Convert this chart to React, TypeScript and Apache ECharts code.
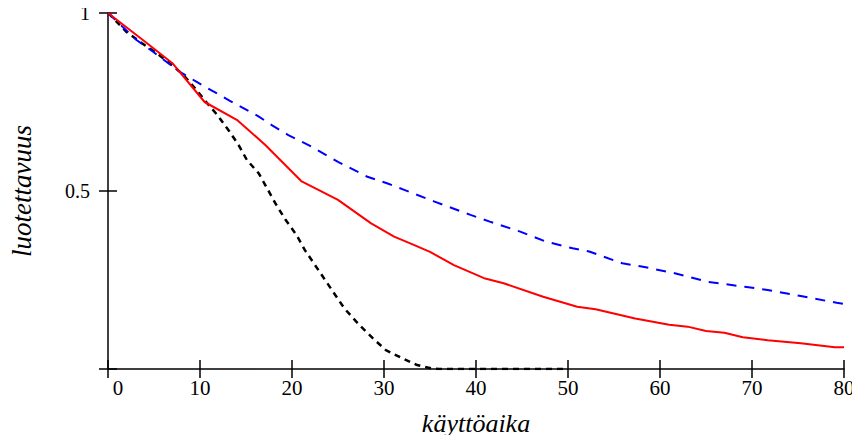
import React, { useEffect, useRef } from "react";
import * as echarts from "echarts";

const xTicks = [0, 10, 20, 30, 40, 50, 60, 70, 80];
const yTickLabels = ["", "0.5", "1"];

const redX = [0, 4, 7, 10.5, 14, 15.2, 17.1, 21, 25, 28.6, 31.1, 33.3, 35, 37.6, 41, 43, 47.3, 51, 53, 57.3, 61, 63, 65, 67, 69, 71.7, 75.3, 79, 80];
const redY = [1, 0.92, 0.859, 0.75, 0.7, 0.673, 0.629, 0.528, 0.475, 0.409, 0.372, 0.348, 0.329, 0.292, 0.254, 0.241, 0.203, 0.175, 0.168, 0.142, 0.124, 0.119, 0.107, 0.102, 0.089, 0.081, 0.072, 0.061, 0.061];

const blueX = [0, 3.1, 4.9, 7.8, 9.6, 13.2, 16.4, 17.8, 19.6, 21.8, 25, 28.2, 30.4, 32.2, 35.5, 39.4, 41.5, 44.8, 47.6, 50.5, 52.3, 55.9, 58, 61.6, 65.2, 69.2, 71.7, 75.3, 79.2, 80];
const blueY = [1, 0.924, 0.891, 0.835, 0.807, 0.754, 0.709, 0.685, 0.657, 0.629, 0.582, 0.54, 0.521, 0.503, 0.47, 0.433, 0.414, 0.386, 0.358, 0.339, 0.33, 0.297, 0.288, 0.269, 0.245, 0.231, 0.222, 0.205, 0.186, 0.183];

const blackX = [0, 0.25, 2, 3.7, 5.3, 6.7, 8.2, 9.6, 10.8, 11.9, 13.2, 14.2, 15.1, 16.4, 17.3, 18.2, 19.3, 20.5, 21.4, 22.5, 23.6, 24.7, 25.7, 27.3, 28.8, 30.2, 32, 33.6, 35.1, 36, 50];
const blackY = [1, 0.994, 0.947, 0.915, 0.887, 0.859, 0.826, 0.784, 0.746, 0.713, 0.667, 0.629, 0.587, 0.549, 0.507, 0.465, 0.419, 0.376, 0.334, 0.292, 0.25, 0.208, 0.17, 0.124, 0.086, 0.053, 0.03, 0.011, 0.002, 0, 0];

const zip = (xs: number[], ys: number[]) => xs.map((x, i) => [x, ys[i]]);

const FONT = "Times New Roman, Liberation Serif, serif";

export default function App() {
  const ref = useRef<HTMLDivElement>(null);
  useEffect(() => {
    if (!ref.current) return;
    const chart = echarts.init(ref.current, undefined, { renderer: "svg" });
    const axisLineStyle = { color: "#000", width: 1.5 };
    chart.setOption({
      animation: false,
      backgroundColor: "#fff",
      textStyle: { fontFamily: FONT },
      grid: { left: 101, right: 16, top: 13, bottom: 74, containLabel: false },
      xAxis: [
        {
          type: "value",
          min: 0,
          max: 80,
          interval: 10,
          position: "bottom",
          splitLine: { show: false },
          axisLine: { show: true, onZero: false, lineStyle: axisLineStyle },
          axisTick: { show: true, length: 9, lineStyle: axisLineStyle },
          axisLabel: {
            color: "#000",
            fontFamily: FONT,
            fontSize: 21,
            margin: 8,
            formatter: (v: number) => (v === 0 ? "{z|0}" : String(xTicks.includes(v) ? v : "")),
            rich: { z: { padding: [0, 0, 0, 20], fontFamily: FONT, fontSize: 21, color: "#000" } },
          },
          name: "käyttöaika",
          nameLocation: "middle",
          nameGap: 41,
          nameTextStyle: { color: "#000", fontFamily: FONT, fontSize: 26, fontStyle: "italic", verticalAlign: "top" },
        },
        {
          type: "value",
          min: 0,
          max: 80,
          interval: 10,
          position: "bottom",
          offset: 0,
          splitLine: { show: false },
          axisLine: { show: false },
          axisTick: { show: true, inside: true, length: 9, lineStyle: axisLineStyle },
          axisLabel: { show: false },
        },
      ],
      yAxis: [
        {
          type: "value",
          min: 0,
          max: 1,
          interval: 0.5,
          position: "left",
          splitLine: { show: false },
          axisLine: { show: true, onZero: false, lineStyle: axisLineStyle },
          axisTick: { show: true, length: 9, lineStyle: axisLineStyle },
          axisLabel: {
            color: "#000",
            fontFamily: FONT,
            fontSize: 20,
            margin: 18,
            padding: [8, 0, 0, 0],
            formatter: (v: number) => yTickLabels[Math.round(v * 2)] ?? "",
          },
          name: "luotettavuus",
          nameLocation: "middle",
          nameGap: 73,
          nameTextStyle: { color: "#000", fontFamily: FONT, fontSize: 27, fontStyle: "italic" },
        },
        {
          type: "value",
          min: 0,
          max: 1,
          interval: 0.5,
          position: "left",
          offset: 0,
          splitLine: { show: false },
          axisLine: { show: false },
          axisTick: { show: true, inside: true, length: 9, lineStyle: axisLineStyle },
          axisLabel: { show: false },
        },
      ],
      series: [
        {
          type: "line",
          data: zip(blackX, blackY),
          showSymbol: false,
          lineStyle: { color: "#000", width: 2.5, type: [6, 5] },
          z: 3,
        },
        {
          type: "line",
          data: zip(blueX, blueY),
          showSymbol: false,
          lineStyle: { color: "#0000ff", width: 2, type: [10, 8] },
          z: 4,
        },
        {
          type: "line",
          data: zip(redX, redY),
          showSymbol: false,
          lineStyle: { color: "#ff0000", width: 2 },
          z: 5,
        },
      ],
    });
    return () => chart.dispose();
  }, []);
  return <div ref={ref} style={{ width: 860, height: 443, margin: -8 }} />;
}
